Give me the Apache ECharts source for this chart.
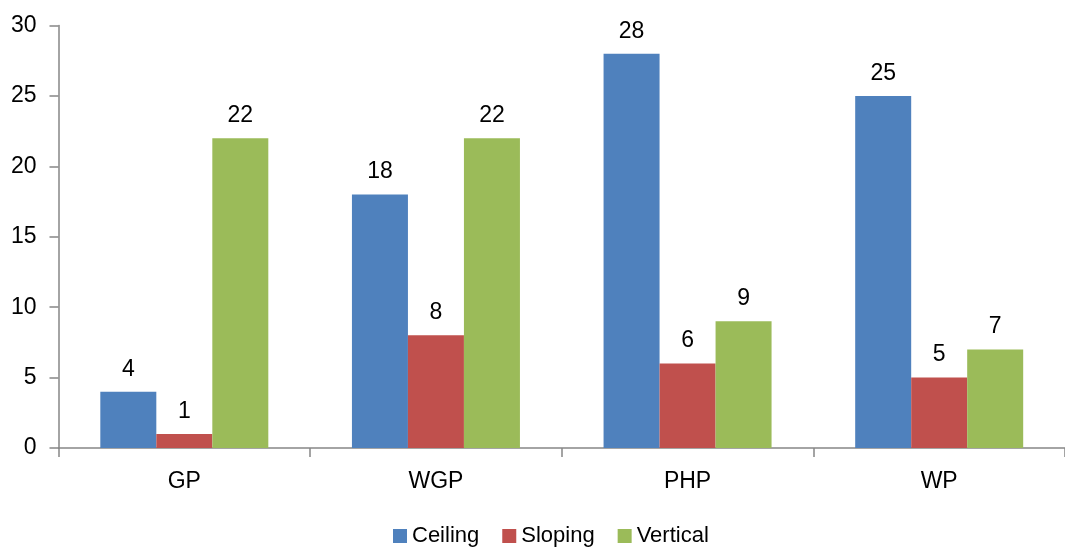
<!DOCTYPE html>
<html>
<head>
<meta charset="utf-8">
<script src="https://cdn.jsdelivr.net/npm/echarts@6/dist/echarts.min.js"></script>
<style>
  html, body { margin: 0; padding: 0; background: #ffffff; }
  #chart { width: 1065px; height: 548px; }
</style>
</head>
<body>
<div id="chart"></div>
<script>
// Categories and counts per orientation
const categories = ['GP', 'WGP', 'PHP', 'WP'];
const ceiling = [4, 18, 28, 25];
const sloping = [1, 8, 6, 5];
const vertical = [22, 22, 9, 7];
const seriesNames = ['Ceiling', 'Sloping', 'Vertical'];
const seriesColors = ['#4F81BD', '#C0504D', '#9BBB59'];

const axisGray = '#868686';
const font = 'Liberation Sans, Arial, sans-serif';

function barSeries(name, data, color) {
  return {
    name: name,
    type: 'bar',
    data: data,
    barWidth: 56,
    barGap: '0%',
    itemStyle: { color: color },
    label: {
      show: true,
      position: 'top',
      distance: 11,
      color: '#000',
      fontFamily: font,
      fontSize: 23
    }
  };
}

const chart = echarts.init(document.getElementById('chart'), null, { renderer: 'canvas' });
chart.setOption({
  animation: false,
  backgroundColor: '#ffffff',
  grid: { left: 58.5, top: 25.5, width: 1012, height: 422.5, containLabel: false },
  legend: {
    data: seriesNames,
    left: 388,
    top: 520,
    icon: 'rect',
    itemWidth: 14,
    itemHeight: 14,
    itemGap: 23,
    textStyle: { color: '#000', fontFamily: font, fontSize: 22 }
  },
  xAxis: {
    type: 'category',
    data: categories,
    axisLine: { show: true, lineStyle: { color: axisGray, width: 1.5 } },
    axisTick: { show: true, length: 9, lineStyle: { color: axisGray, width: 1.5 } },
    axisLabel: { color: '#000', fontFamily: font, fontSize: 23, margin: 22 }
  },
  yAxis: {
    type: 'value',
    min: 0,
    max: 30,
    interval: 5,
    splitLine: { show: false },
    axisLine: { show: true, lineStyle: { color: axisGray, width: 1.5 } },
    axisTick: { show: true, length: 9, lineStyle: { color: axisGray, width: 1.5 } },
    axisLabel: { color: '#000', fontFamily: font, fontSize: 23, margin: 22 }
  },
  series: [
    barSeries(seriesNames[0], ceiling, seriesColors[0]),
    barSeries(seriesNames[1], sloping, seriesColors[1]),
    barSeries(seriesNames[2], vertical, seriesColors[2])
  ]
});
</script>
</body>
</html>
